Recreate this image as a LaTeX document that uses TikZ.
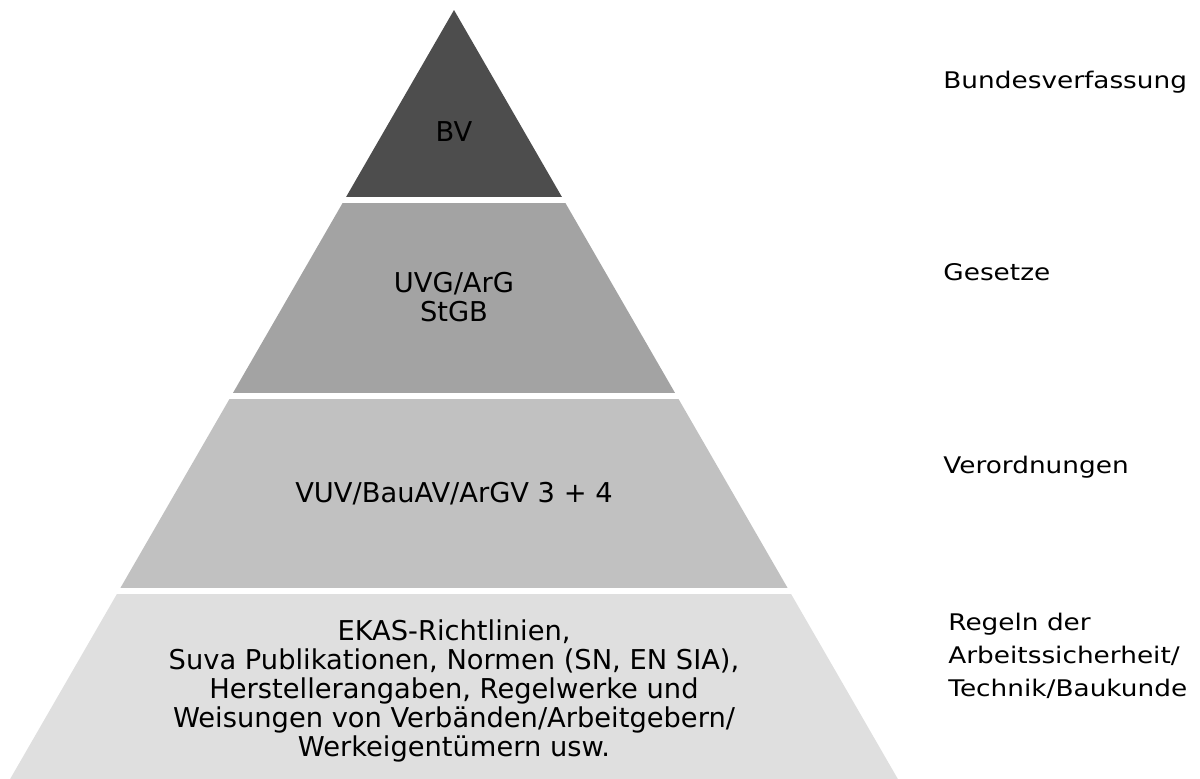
\documentclass[tikz,border=0pt]{standalone}
\usepackage{fontspec}
\setmainfont{DejaVu Sans}
\newfontfamily\sidefont[FakeStretch=1.15]{DejaVu Sans}
\definecolor{stufeA}{HTML}{4D4D4D}
\definecolor{stufeB}{HTML}{A3A3A3}
\definecolor{stufeC}{HTML}{C1C1C1}
\definecolor{stufeD}{HTML}{DFDFDF}
\tikzset{
  stufe/.style={font=\fontsize{13.65}{14.5}\selectfont, align=center, anchor=base, inner sep=0pt},
  seite/.style={font=\sidefont\fontsize{11.45}{16.5}\selectfont, align=left, anchor=base west, inner sep=0pt}
}
\begin{document}
\begin{tikzpicture}[x=0.5pt,y=-0.5pt]
  \useasboundingbox (0,0) rectangle (1200,778);
  \begin{scope}
    \clip (454,10) -- (910,800) -- (-2,800) -- cycle;
    \fill[stufeA] (0,0) rectangle (1200,197);
    \fill[stufeB] (0,203) rectangle (1200,393);
    \fill[stufeC] (0,399) rectangle (1200,588);
    \fill[stufeD] (0,594) rectangle (1200,800);
  \end{scope}
  \node[stufe] (bv) at (454,141.7) {BV};
  \node[stufe] (gesetz) at (454,321.7) {UVG/ArG\\StGB};
  \node[stufe] (verord) at (454,502.7) {VUV/BauAV/ArGV 3 + 4};
  \node[stufe] (regeln) at (454,756.7) {EKAS-Richtlinien,\\Suva Publikationen, Normen (SN, EN SIA),\\Herstellerangaben, Regelwerke und\\Weisungen von Verbänden/Arbeitgebern/\\Werkeigentümern usw.};
  \node[seite] (bv-l) at (943,88) {Bundesverfassung};
  \node[seite] (gesetz-l) at (943,280) {Gesetze};
  \node[seite] (verord-l) at (943,473) {Verordnungen};
  \node[seite] (regeln-l) at (948,696) {Regeln der\\Arbeitssicherheit/\\Technik/Baukunde};
\end{tikzpicture}
\end{document}
